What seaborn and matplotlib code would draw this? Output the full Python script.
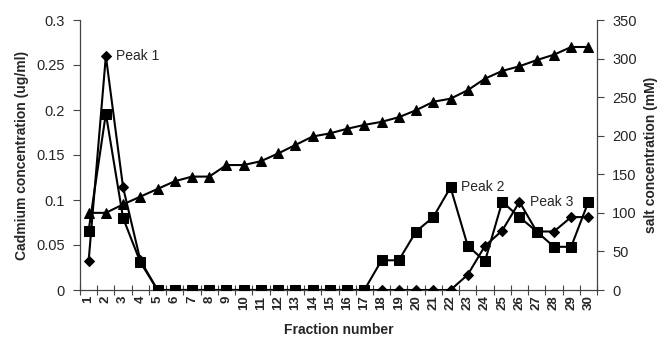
import matplotlib
matplotlib.use("Agg")
import matplotlib.pyplot as plt
import seaborn as sns
import pandas as pd

fractions = list(range(1, 31))
cd_diamond = [0.032, 0.260, 0.114, 0.033, 0, 0, 0, 0, 0, 0,
              0, 0, 0, 0, 0, 0, 0, 0, 0, 0,
              0, 0, 0.017, 0.049, 0.066, 0.098, 0.065, 0.065, 0.081, 0.081]
cd_square = [0.066, 0.196, 0.080, 0.031, 0, 0, 0, 0, 0, 0,
             0, 0, 0, 0, 0, 0, 0, 0.033, 0.033, 0.065,
             0.081, 0.114, 0.049, 0.032, 0.098, 0.081, 0.065, 0.048, 0.048, 0.098]
salt_mM = [100, 100, 111, 121, 131, 141, 147, 147, 162, 162,
           167, 177, 188, 199, 203, 209, 214, 218, 224, 233,
           244, 248, 259, 274, 284, 290, 298, 305, 315, 315]
tick_labels = [str(f) for f in fractions]

df = pd.DataFrame({"fraction": fractions, "diamond": cd_diamond,
                   "square": cd_square, "salt": salt_mM})

sns.set_theme(style="white")
plt.rcParams["font.family"] = ["Liberation Sans", "DejaVu Sans"]

fig = plt.figure(figsize=(6.59, 3.41), dpi=100)
ax = fig.add_axes([80 / 659, 1 - 290 / 341, (597 - 80) / 659, (290 - 20) / 341])
ax2 = ax.twinx()

lw = 1.5
sns.lineplot(data=df, x="fraction", y="salt", ax=ax2, color="black", lw=lw,
             marker="^", markersize=7.5, markeredgecolor="black", zorder=2)
sns.lineplot(data=df, x="fraction", y="square", ax=ax, color="black", lw=lw,
             marker="s", markersize=7, markeredgecolor="black", zorder=3)
sns.lineplot(data=df, x="fraction", y="diamond", ax=ax, color="black", lw=lw,
             marker="D", markersize=5.5, markeredgecolor="black", zorder=4)

for a in (ax, ax2):
    a.set_xlim(0.5, 30.5)
    for s in a.spines.values():
        s.set_visible(False)
    a.grid(False)
    a.set_facecolor("none")

ax.set_ylim(0, 0.3)
ax2.set_ylim(0, 350)
ax.set_yticks([0, 0.05, 0.1, 0.15, 0.2, 0.25, 0.3])
ax.set_yticklabels(["0", "0.05", "0.1", "0.15", "0.2", "0.25", "0.3"])
ax2.set_yticks([0, 50, 100, 150, 200, 250, 300, 350])

ax.spines["left"].set_visible(True)
ax.spines["bottom"].set_visible(True)
ax2.spines["right"].set_visible(True)
for sp in (ax.spines["left"], ax.spines["bottom"], ax2.spines["right"]):
    sp.set_color("#444444")
    sp.set_linewidth(0.9)

ax.set_xticks(fractions)
ax.set_xticklabels(tick_labels, rotation=90, fontsize=9.5, fontweight="bold")
ax.set_xticks([f + 0.5 for f in [0] + fractions], minor=True)
ax.tick_params(axis="x", which="major", length=0, pad=4)
ax.tick_params(axis="x", which="minor", direction="inout", length=7,
               width=0.8, color="#444444", bottom=True)
ax.tick_params(axis="y", which="major", direction="out", length=5, width=0.8,
               color="#444444", labelsize=10.5, left=True, pad=6)
ax2.tick_params(axis="y", which="major", direction="out", length=5, width=0.8,
                color="#444444", labelsize=10.5, right=True, pad=6)

ax.set_xlabel("Fraction number", fontsize=10, fontweight="bold", labelpad=9)
ax.set_ylabel("Cadmium concentration (ug/ml)", fontsize=10, fontweight="bold", labelpad=5)
ax2.set_ylabel("salt concentration (mM)", fontsize=10, fontweight="bold", labelpad=5)

ax.text(2.6, 0.260, "Peak 1", fontsize=10, va="center", ha="left", zorder=6)
ax.text(22.6, 0.114, "Peak 2", fontsize=10, va="center", ha="left", zorder=6)
ax.text(26.6, 0.098, "Peak 3", fontsize=10, va="center", ha="left", zorder=6,
        bbox=dict(facecolor="white", edgecolor="none", pad=0.5))

fig.savefig("out.png", dpi=100)
